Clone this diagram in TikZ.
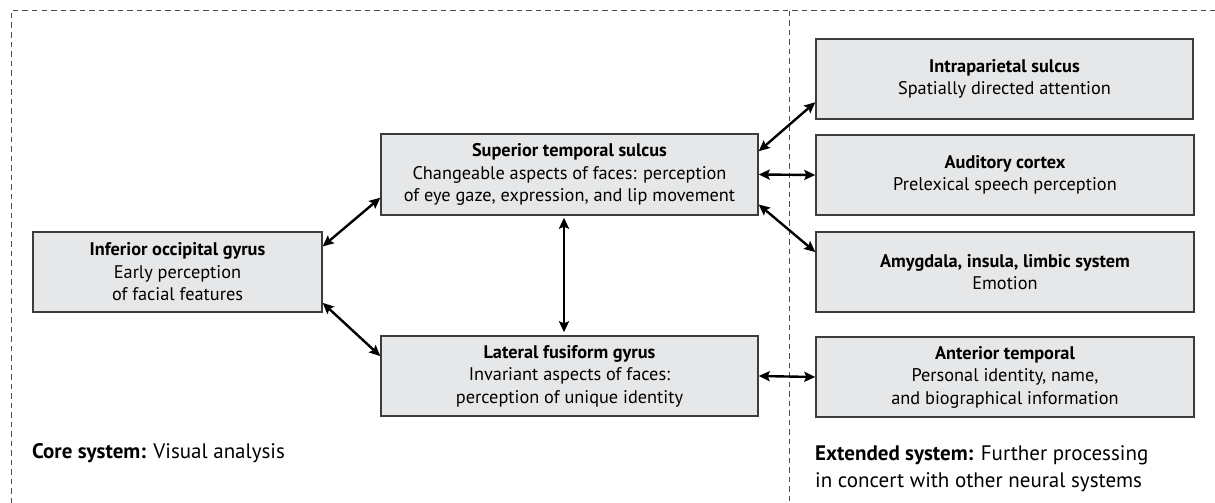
\documentclass[tikz,border=0pt]{standalone}
\usepackage{fontspec}
\setmainfont{PT Sans}
\usetikzlibrary{arrows.meta}
\definecolor{boxfill}{HTML}{E6E7E8}
\definecolor{boxline}{HTML}{3C3C3C}
\definecolor{dashc}{HTML}{4D4D4D}
\begin{document}
\begin{tikzpicture}[x=1pt,y=-1pt,
  region/.style={draw=boxline, fill=boxfill, line width=1.4pt, rectangle, align=center,
    inner sep=0pt, font=\fontsize{18.3}{22.5}\selectfont},
  link/.style={{Stealth[length=11pt,width=10pt,inset=2pt]}-{Stealth[length=11pt,width=10pt,inset=2pt]}, line width=2.4pt, black},
  frameline/.style={dashc, line width=1pt, dash pattern=on 5.5pt off 4pt},
  caption/.style={anchor=north west, inner sep=0pt, align=left, font=\fontsize{21}{27}\selectfont}]
\useasboundingbox (0,0) rectangle (1215,503);

% dashed frame
\draw[frameline] (11,503) -- (11,11) -- (1215,11);
\draw[frameline] (789,11) -- (789,503);

% core system
\node[region, minimum width=289pt, minimum height=80pt] (iog) at (177.5,272)
  {\textbf{Inferior occipital gyrus}\\Early perception\\of facial features};
\node[region, minimum width=377pt, minimum height=81pt] (sts) at (569.5,174.5)
  {\textbf{Superior temporal sulcus}\\Changeable aspects of faces: perception\\of eye gaze, expression, and lip movement};
\node[region, minimum width=377pt, minimum height=80pt] (lfg) at (569.5,376)
  {\textbf{Lateral fusiform gyrus}\\Invariant aspects of faces:\\perception of unique identity};

% extended system
\node[region, minimum width=377pt, minimum height=80pt] (ips) at (1004.5,79)
  {\textbf{Intraparietal sulcus}\\Spatially directed attention};
\node[region, minimum width=378pt, minimum height=80pt] (aud) at (1005,175)
  {\textbf{Auditory cortex}\\Prelexical speech perception};
\node[region, minimum width=378pt, minimum height=80pt] (amy) at (1005,272)
  {\textbf{Amygdala, insula, limbic system}\\Emotion};
\node[region, minimum width=378pt, minimum height=80pt] (ant) at (1005,377)
  {\textbf{Anterior temporal}\\Personal identity, name,\\and biographical information};

% captions
\node[caption] (core) at (32,443) {\textbf{Core system:} Visual analysis};
\node[caption] (ext) at (815,445) {\textbf{Extended system:} Further processing\\in concert with other neural systems};

% connectors
\draw[link] (iog.10) -- (sts.187);
\draw[link] (iog.-12) -- (lfg.174);
\draw[link, shorten <=2pt, shorten >=3pt] ([xshift=-5.5pt]sts.south) -- ([xshift=-5.5pt]lfg.north);
\draw[link] (sts.7) -- (ips.187);
\draw[link] (sts.east) -- (aud.west);
\draw[link] (sts.-9) -- (amy.174);
\draw[link] (lfg.east) -- (ant.west);
\end{tikzpicture}
\end{document}
